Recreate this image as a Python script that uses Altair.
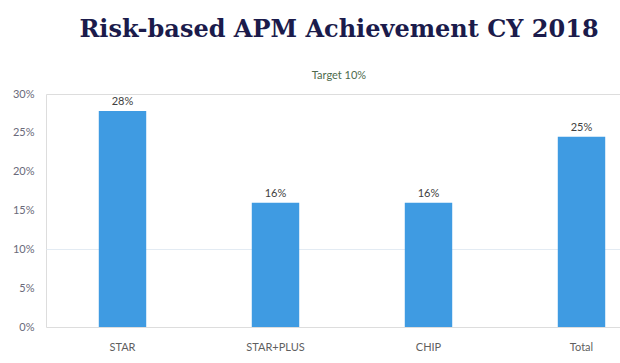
import altair as alt
import pandas as pd

categories = ["STAR", "STAR+PLUS", "CHIP", "Total"]
values = [0.278, 0.16, 0.16, 0.245]
value_labels = ["28%", "16%", "16%", "25%"]
y_ticks = [0, 0.05, 0.10, 0.15, 0.20, 0.25, 0.30]

df = pd.DataFrame({"cat": categories, "val": values, "lab": value_labels})

xscale = alt.Scale(domain=categories, range=[0, 612], paddingInner=0.69, paddingOuter=0.345)
yscale = alt.Scale(domain=[0, 0.30], nice=False)

yaxis = alt.Axis(title=None, values=y_ticks, format=".0%", grid=True,
                 gridColor={"condition": {"test": "abs(datum.value - 0.1) < 0.001",
                                          "value": "#e3ebf3"},
                            "value": "transparent"},
                 domain=False, ticks=False, labelPadding=12,
                 labelOverlap=False,
                 labelFont="Lato", labelFontSize=11, labelColor="#6a6a7a")
xaxis = alt.Axis(title=None, labelAngle=0, domain=False, ticks=False, grid=False,
                 labelPadding=14, labelFont="Lato", labelFontSize=11,
                 labelColor="#5f5f5f")

base = alt.Chart(df)

bars = base.mark_bar(color="#3f9be2").encode(
    x=alt.X("cat:N", scale=xscale, sort=categories, axis=xaxis),
    y=alt.Y("val:Q", scale=yscale, axis=yaxis),
)

text = base.mark_text(baseline="bottom", dy=-4, font="Lato", fontSize=11,
                      color="#404040").encode(
    x=alt.X("cat:N", scale=xscale, sort=categories, axis=xaxis),
    y=alt.Y("val:Q", scale=yscale, axis=yaxis),
    text="lab:N",
)

chart = alt.layer(bars, text).properties(
    width=574,
    height=233,
    autosize=alt.AutoSizeParams(type="none"),
    padding={"left": 46, "top": 94, "right": 0, "bottom": 36},
    title=alt.TitleParams(
        text="Risk-based APM Achievement CY 2018",
        subtitle="Target 10%",
        anchor="middle",
        font="DejaVu Serif",
        fontSize=24,
        fontWeight="bold",
        color="#1b1b4b",
        subtitleFont="Lato",
        subtitleFontSize=11,
        subtitleColor="#4d6b4d",
        subtitlePadding=28,
        offset=7,
        dx=6,
    ),
).configure_view(stroke="transparent", strokeWidth=0).configure(background="white")

chart.save("out.html", embed_options={"renderer": "svg", "actions": False})
